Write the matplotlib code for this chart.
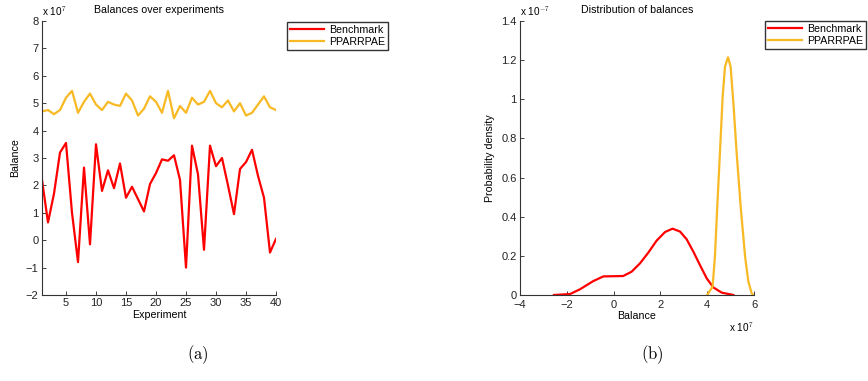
import matplotlib
matplotlib.use("Agg")
import matplotlib.pyplot as plt

plt.rcParams['font.family'] = ['Liberation Sans', 'DejaVu Sans']
plt.rcParams['mathtext.fontset'] = 'cm'

# ---- data (balances in units of 1e7) ----
experiments = list(range(1, 41))
benchmark = [2.2, 0.65, 1.7, 3.2, 3.55, 1.0, -0.8, 2.65, -0.15, 3.5,
             1.8, 2.55, 1.9, 2.8, 1.55, 1.95, 1.5, 1.05, 2.05, 2.45,
             2.95, 2.9, 3.1, 2.2, -1.0, 3.45, 2.4, -0.35, 3.45, 2.7,
             3.0, 2.0, 0.95, 2.6, 2.85, 3.3, 2.35, 1.55, -0.45, 0.05]
pparrpae = [4.7, 4.75, 4.6, 4.75, 5.2, 5.45, 4.65, 5.05, 5.35, 4.95,
            4.75, 5.05, 4.95, 4.9, 5.35, 5.1, 4.55, 4.8, 5.25, 5.05,
            4.65, 5.45, 4.45, 4.9, 4.65, 5.2, 4.95, 5.05, 5.45, 5.0,
            4.85, 5.1, 4.7, 5.0, 4.55, 4.65, 4.95, 5.25, 4.85, 4.75]

# density curves (x in 1e7, density in 1e-7)
bench_x = [-2.55, -1.86, -1.44, -0.87, -0.44, 0.0, 0.41, 0.77, 1.13, 1.48,
           1.84, 2.2, 2.52, 2.84, 3.12, 3.41, 3.69, 3.98, 4.26, 4.62, 5.12]
bench_d = [0.0, 0.005, 0.029, 0.071, 0.095, 0.096, 0.097, 0.119, 0.162, 0.216,
           0.278, 0.322, 0.339, 0.324, 0.285, 0.221, 0.153, 0.085, 0.039, 0.012, 0.0]
ppa_x = [4.0, 4.23, 4.33, 4.43, 4.55, 4.66, 4.76, 4.89, 5.0, 5.12,
         5.26, 5.43, 5.62, 5.76, 5.9, 5.97]
ppa_d = [0.0, 0.043, 0.196, 0.451, 0.741, 1.013, 1.167, 1.215, 1.167, 0.979,
         0.724, 0.451, 0.196, 0.068, 0.009, 0.0]

series_names = ['Benchmark', 'PPARRPAE']
RED = '#ff0000'
YEL = '#f7b924'
FS = 7.7

fig = plt.figure(figsize=(8.68, 3.81), dpi=100)
W, H = 868, 381

def px_axes(x0, x1, ytop, ybot):
    return fig.add_axes([x0 / W, 1 - ybot / H, (x1 - x0) / W, (ybot - ytop) / H])

def style(ax):
    for s in ['top', 'right']:
        ax.spines[s].set_visible(False)
    for s in ['left', 'bottom']:
        ax.spines[s].set_linewidth(0.8)
        ax.spines[s].set_color('#333333')
    ax.tick_params(direction='in', length=3, width=0.6, labelsize=8, colors='#222222', pad=2.5)

def legend(ax, x, y):
    leg = ax.legend(loc='upper left', bbox_to_anchor=(x / W, 1 - y / H), bbox_transform=fig.transFigure,
                    fontsize=FS, frameon=True, fancybox=False, handlelength=3.2, borderpad=0.3,
                    labelspacing=0.15, handletextpad=0.4, borderaxespad=0)
    leg.get_frame().set_edgecolor('black')
    leg.get_frame().set_linewidth(1.0)

# ---- left ----
ax1 = px_axes(42, 276, 21, 295)
ax1.plot(experiments, benchmark, color=RED, lw=1.6, label=series_names[0])
ax1.plot(experiments, pparrpae, color=YEL, lw=1.6, label=series_names[1])
ax1.set_xlim(1, 40)
ax1.set_ylim(-2, 8)
ax1.set_xticks([5, 10, 15, 20, 25, 30, 35, 40])
ax1.set_yticks(range(-2, 9))
ax1.set_yticklabels(['\u22122', '\u22121', '0', '1', '2', '3', '4', '5', '6', '7', '8'])
style(ax1)
ax1.set_title('Balances over experiments', fontsize=FS, pad=6)
ax1.set_xlabel('Experiment', fontsize=FS, labelpad=1)
ax1.set_ylabel('Balance', fontsize=FS, labelpad=4)
ax1.text(0.0, 1.01, r'x 10$^{7}$', transform=ax1.transAxes, fontsize=FS - 0.5, ha='left', va='bottom')
legend(ax1, 287, 22)

# ---- right ----
ax2 = px_axes(520, 754, 21, 295)
ax2.plot(bench_x, bench_d, color=RED, lw=1.6, label=series_names[0])
ax2.plot(ppa_x, ppa_d, color=YEL, lw=1.6, label=series_names[1])
ax2.set_xlim(-4, 6)
ax2.set_ylim(0, 1.4)
ax2.set_xticks(range(-4, 7, 2))
ax2.set_xticklabels(['\u22124', '\u22122', '0', '2', '4', '6'])
ax2.set_yticks([0, 0.2, 0.4, 0.6, 0.8, 1.0, 1.2, 1.4])
ax2.set_yticklabels(['0', '0.2', '0.4', '0.6', '0.8', '1', '1.2', '1.4'])
style(ax2)
ax2.tick_params(axis='x', pad=3.5)
ax2.set_title('Distribution of balances', fontsize=FS, pad=6)
ax2.set_xlabel('Balance', fontsize=FS, labelpad=1)
ax2.set_ylabel('Probability density', fontsize=FS, labelpad=4)
ax2.text(0.0, 1.01, r'x 10$^{-7}$', transform=ax2.transAxes, fontsize=FS - 0.5, ha='left', va='bottom')
ax2.text(1.0, -0.095, r'x 10$^{7}$', transform=ax2.transAxes, fontsize=FS - 0.5, ha='right', va='top')
legend(ax2, 765, 21)

# captions
fig.text(198 / W, 1 - 355 / H, r'$\mathrm{(a)}$', fontsize=12, ha='center', va='center')
fig.text(652 / W, 1 - 355 / H, r'$\mathrm{(b)}$', fontsize=12, ha='center', va='center')

fig.savefig('out.png', dpi=100)
